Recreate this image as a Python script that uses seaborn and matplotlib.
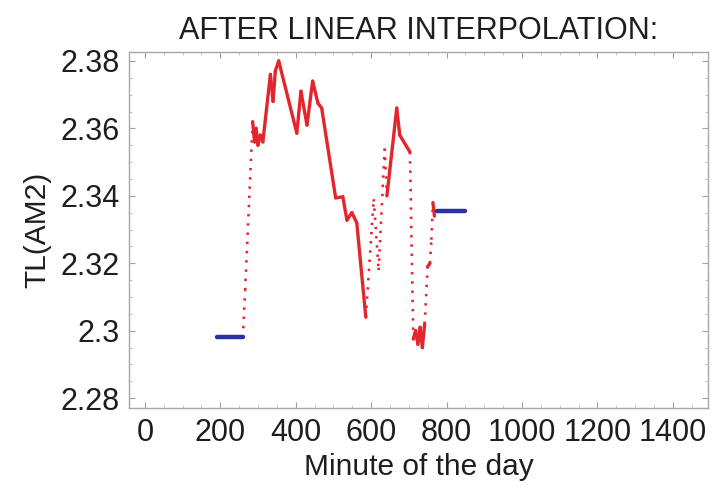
import numpy as np
import pandas as pd
import matplotlib
matplotlib.use("Agg")
import matplotlib.pyplot as plt
from matplotlib.ticker import MultipleLocator
import seaborn as sns

# ---- data ----
blue_before_min = [191, 260]
blue_before_val = [2.298, 2.298]
blue_after_min = [774, 849]
blue_after_val = [2.3355, 2.3355]

red_min = [260, 266, 286, 291, 295, 300, 306, 313, 333, 340, 346, 355,
           403, 414, 430, 445, 459, 469, 506, 525, 536, 549, 562, 586,
           607, 620, 636, 642, 668, 676, 703, 712, 718, 724, 730, 736,
           742, 750, 756, 760, 764, 768]
red_val = [2.298, 2.312, 2.362, 2.356, 2.360, 2.355, 2.358, 2.356, 2.376, 2.368, 2.377, 2.380,
           2.3586, 2.371, 2.361, 2.374, 2.3675, 2.366, 2.3394, 2.3397, 2.3328, 2.335, 2.332, 2.304,
           2.339, 2.318, 2.354, 2.340, 2.366, 2.358, 2.353, 2.2975, 2.300, 2.296, 2.301, 2.295,
           2.302, 2.319, 2.320, 2.327, 2.338, 2.334]

x_ticks = [0, 200, 400, 600, 800, 1000, 1200, 1400]
y_ticks = [2.28, 2.30, 2.32, 2.34, 2.36, 2.38]
y_tick_labels = ["2.28", "2.3", "2.32", "2.34", "2.36", "2.38"]

title = "AFTER LINEAR INTERPOLATION:"
x_label = "Minute of the day"
y_label = "TL(AM2)"

# ---- build segment table (steep steps look dotted in the original) ----
rows = []
for i in range(len(red_min) - 1):
    x0, x1 = red_min[i], red_min[i + 1]
    y0, y1 = red_val[i], red_val[i + 1]
    slope = abs(y1 - y0) / max(x1 - x0, 1e-9)
    kind = "jump" if slope > 0.00155 else "smooth"
    rows.append({"seg": i, "minute": x0, "value": y0, "kind": kind})
    rows.append({"seg": i, "minute": x1, "value": y1, "kind": kind})
red_df = pd.DataFrame(rows)

blue_df = pd.DataFrame({
    "minute": blue_before_min + blue_after_min,
    "value": blue_before_val + blue_after_val,
    "part": ["before"] * 2 + ["after"] * 2,
})

sns.set_theme(style="white")
plt.rcParams["font.family"] = ["Liberation Sans", "DejaVu Sans"]

fig = plt.figure(figsize=(7.15, 4.9), dpi=100)
ax = fig.add_axes([0.1804, 0.167, 0.8096, 0.727])

red = "#e3262d"
blue = "#2b2fa8"
smooth_df = red_df[red_df["kind"] == "smooth"]
jump_df = red_df[red_df["kind"] == "jump"]

sns.lineplot(data=smooth_df, x="minute", y="value", units="seg", estimator=None,
             color=red, linewidth=2.4, ax=ax, legend=False)
sns.lineplot(data=jump_df, x="minute", y="value", units="seg", estimator=None,
             color=red, linewidth=1.9, ax=ax, legend=False, linestyle=(0, (0.9, 2.6)))
sns.lineplot(data=blue_df, x="minute", y="value", units="part", estimator=None,
             color=blue, linewidth=3.2, ax=ax, legend=False)

ax.set_xlim(-42, 1493)
ax.set_ylim(2.27703, 2.38267)
ax.set_xticks(x_ticks)
ax.set_yticks(y_ticks)
ax.set_yticklabels(y_tick_labels)
ax.xaxis.set_minor_locator(MultipleLocator(50))
ax.yaxis.set_minor_locator(MultipleLocator(0.005))

txt = "#1e1e1e"
ax.tick_params(axis="both", which="major", direction="in", length=4, width=0.8,
               color="#a0a0a0", labelsize=22, labelcolor=txt, pad=7,
               top=True, right=True, bottom=True, left=True)
ax.tick_params(axis="both", which="minor", direction="in", length=2, width=0.6,
               color="#b8b8b8", top=True, right=True, bottom=True, left=True)
for s in ax.spines.values():
    s.set_color("#a8a8a8")
    s.set_linewidth(1.0)

ax.set_title(title, fontsize=22, color=txt, pad=9)
ax.set_xlabel(x_label, fontsize=21.5, color=txt, labelpad=4)
ax.set_ylabel(y_label, fontsize=21.5, color=txt, labelpad=6)

fig.savefig("out.png", dpi=100)
